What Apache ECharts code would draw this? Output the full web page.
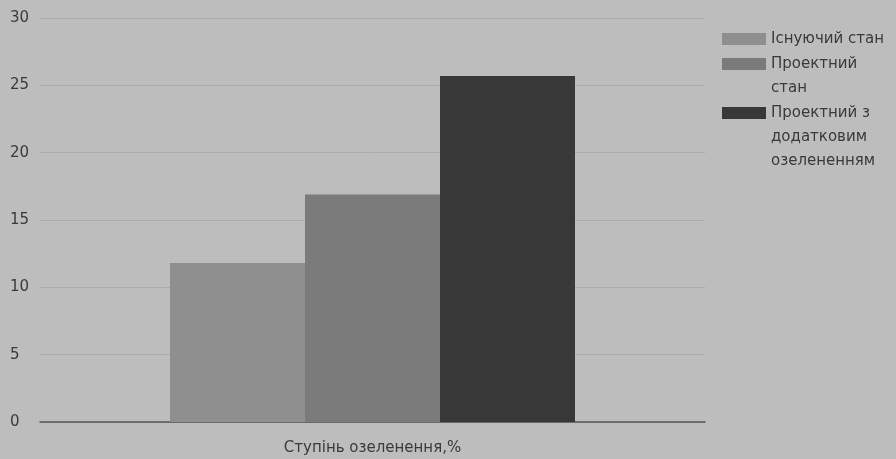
<!DOCTYPE html>
<html>
<head>
<meta charset="utf-8">
<script src="https://cdn.jsdelivr.net/npm/echarts@6/dist/echarts.min.js"></script>
<style>
  html, body { margin: 0; padding: 0; background: #bdbdbd; }
  #chart { width: 896px; height: 459px; }
</style>
</head>
<body>
<div id="chart"></div>
<script>
var categories = ['Ступінь озеленення,%'];
var seriesNames = ['Існуючий стан', 'Проектний стан', 'Проектний з додатковим озелененням'];
var legendLabels = ['Існуючий стан', 'Проектний\nстан', 'Проектний з\nдодатковим\nозелененням'];
var existing = [11.8];
var projected = [16.9];
var projectedGreen = [25.7];
var yTicks = [0, 5, 10, 15, 20, 25, 30];

var colors = ['#8f8f8f', '#7b7b7b', '#383838'];
var lineH = 24;
var iconCenters = [39, 64, 113];
var font = 'DejaVu Sans';

// multi-line legend text is centred on the swatch, so pad with empty lines
// in front to keep the first line level with the swatch
var legends = seriesNames.map(function (name, i) {
    var lines = legendLabels[i].split('\n');
    var padded = new Array(lines.length).join('\n') + legendLabels[i];
    var boxH = (2 * lines.length - 1) * lineH;
    return {
        orient: 'vertical',
        left: 722,
        top: iconCenters[i] - boxH / 2,
        padding: 0,
        itemWidth: 44,
        itemHeight: 12,
        icon: 'rect',
        data: [name],
        formatter: function () { return padded; },
        textStyle: {
            color: '#3a3a3a',
            fontSize: 15,
            fontFamily: font,
            lineHeight: lineH
        }
    };
});

var chart = echarts.init(document.getElementById('chart'));
chart.setOption({
    backgroundColor: '#bdbdbd',
    animation: false,
    legend: legends,
    grid: { left: 40, right: 191, top: 18, bottom: 37 },
    xAxis: {
        type: 'category',
        data: categories,
        axisLine: { lineStyle: { color: '#555', width: 1.5 } },
        axisTick: { show: false },
        axisLabel: { color: '#3a3a3a', fontSize: 15, margin: 19, fontFamily: font }
    },
    yAxis: {
        type: 'value',
        min: yTicks[0],
        max: yTicks[yTicks.length - 1],
        interval: 5,
        axisLine: { show: false },
        axisTick: { show: false },
        axisLabel: { color: '#3a3a3a', fontSize: 15, margin: 30, align: 'left', fontFamily: font },
        splitLine: { lineStyle: { color: '#aaaaaa' } }
    },
    series: [
        { name: seriesNames[0], type: 'bar', data: existing, barWidth: 135, barGap: '0%', itemStyle: { color: colors[0] } },
        { name: seriesNames[1], type: 'bar', data: projected, barWidth: 135, barGap: '0%', itemStyle: { color: colors[1] } },
        { name: seriesNames[2], type: 'bar', data: projectedGreen, barWidth: 135, barGap: '0%', itemStyle: { color: colors[2] } }
    ]
});
</script>
</body>
</html>
